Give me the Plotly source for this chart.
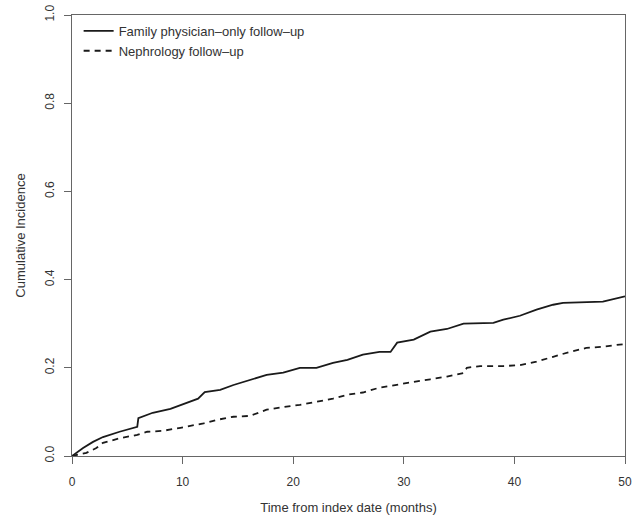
import plotly.graph_objects as go

# Family physician-only follow-up (solid)
fam_months = [0, 1, 1.9, 2.8, 4.3, 5.9, 6.0, 7.3, 8.9, 10.4, 11.4, 12, 13.4, 14.6, 16.1, 17.6,
              19.1, 20.6, 22.1, 23.6, 24.9, 26.3, 27.8, 28.8, 29.4, 30.9, 32.4, 33.9, 35.4,
              36.9, 38.1, 39, 40.5, 42, 43.5, 44.4, 48, 50]
fam_values = [0, 0.018, 0.032, 0.043, 0.055, 0.066, 0.086, 0.098, 0.107, 0.12, 0.13, 0.145,
              0.15, 0.161, 0.173, 0.184, 0.189, 0.2, 0.2, 0.211, 0.218, 0.23, 0.236, 0.236,
              0.257, 0.264, 0.282, 0.288, 0.3, 0.302, 0.302, 0.309, 0.318, 0.332, 0.343,
              0.347, 0.35, 0.362]

# Nephrology follow-up (dashed)
neph_months = [0, 1.3, 2.2, 2.8, 4.3, 5.9, 6.8, 8.2, 9.8, 11.9, 13.1, 14.6, 16.1, 17.6, 19.1,
               20.6, 22.1, 23.6, 24.9, 26.3, 27.8, 29.4, 30.9, 32.4, 33.9, 35.4, 35.7, 36.9,
               39, 40.5, 42, 43.5, 45, 46.5, 48, 50]
neph_values = [0, 0.007, 0.018, 0.03, 0.04, 0.048, 0.055, 0.057, 0.064, 0.074, 0.082, 0.089,
               0.091, 0.105, 0.111, 0.116, 0.123, 0.13, 0.139, 0.144, 0.155, 0.161, 0.168,
               0.174, 0.18, 0.188, 0.2, 0.204, 0.204, 0.206, 0.214, 0.225, 0.236, 0.245,
               0.248, 0.254]

x_ticks = [0, 10, 20, 30, 40, 50]
y_ticks = [0.0, 0.2, 0.4, 0.6, 0.8, 1.0]
y_tick_labels = ["0.0", "0.2", "0.4", "0.6", "0.8", "1.0"]

FONT = "Liberation Sans, Arial, Helvetica, sans-serif"
TXT = "#333333"
AX = "#666666"

fig = go.Figure()
fig.add_trace(go.Scatter(x=fam_months, y=fam_values, mode="lines",
                         name="Family physician\u2013only follow\u2013up",
                         line=dict(color="#1a1a1a", width=1.8, dash="solid")))
fig.add_trace(go.Scatter(x=neph_months, y=neph_values, mode="lines",
                         name="Nephrology follow\u2013up",
                         line=dict(color="#1a1a1a", width=1.8, dash="6px,5px")))

fig.update_layout(
    width=632, height=520,
    margin=dict(l=72, r=7, t=15, b=64, autoexpand=False),
    paper_bgcolor="white", plot_bgcolor="white",
    font=dict(family=FONT, size=12, color=TXT),
    showlegend=True,
    legend=dict(x=0.012, y=0.998, xanchor="left", yanchor="top",
                bgcolor="rgba(0,0,0,0)", font=dict(size=13, color=TXT),
                tracegroupgap=0, itemwidth=30),
)
fig.update_xaxes(range=[0, 50], tickvals=x_ticks, ticks="outside", ticklen=7,
                 tickcolor=AX, showline=True, linecolor=AX, linewidth=1, mirror=True,
                 showgrid=False, zeroline=False, automargin=False,
                 tickfont=dict(size=12), ticklabelstandoff=8, ticklabeloverflow="allow",
                 title=dict(text="Time from index date (months)", standoff=14,
                            font=dict(size=13, color=TXT)))
fig.update_yaxes(range=[0, 1], tickvals=y_ticks, ticktext=y_tick_labels, ticks="outside",
                 ticklen=7, tickcolor=AX, tickangle=-90, showline=True, linecolor=AX,
                 linewidth=1, mirror=True, showgrid=False, zeroline=False, automargin=False,
                 tickfont=dict(size=12), ticklabelstandoff=5, ticklabeloverflow="allow",
                 title=dict(text="Cumulative Incidence", standoff=14,
                            font=dict(size=13, color=TXT)))

# remove the browser's default 8px page margin so the figure fills the window exactly
fig.write_html("out.html", config={"displayModeBar": False},
               post_script="document.body.style.margin='0';")
